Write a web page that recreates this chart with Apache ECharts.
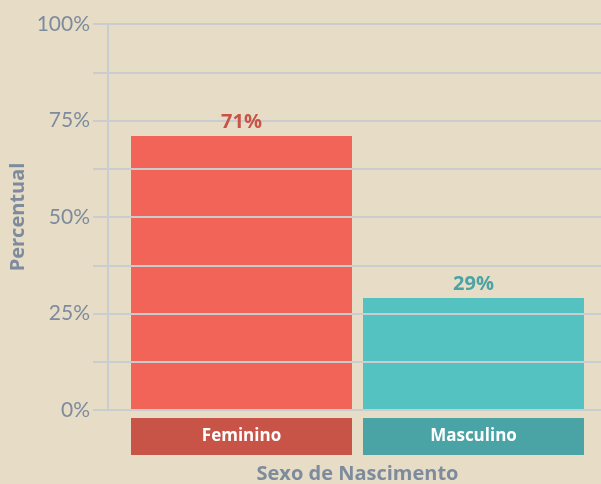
<!DOCTYPE html>
<html>
<head>
<meta charset="utf-8">
<script src="https://cdn.jsdelivr.net/npm/echarts@6/dist/echarts.min.js"></script>
<style>
    html, body { margin: 0; padding: 0; background: #E7DDC6; }
    #chart { width: 601px; height: 484px; }
</style>
</head>
<body>
<div id="chart"></div>
<script>
var categories = ['Feminino', 'Masculino'];
var values = [71, 29];
var barColors = ['#F26457', '#54C2C1'];
var labelColors = ['#C75447', '#4AA3A5'];
var yTicks = [0, 25, 50, 75, 100];

var gridColor = '#C9CDCF';
var textGray = '#7D8B9D';
var font = 'Lato, "Open Sans", sans-serif';

var chart = echarts.init(document.getElementById('chart'));

var rich = {};
categories.forEach(function (c, i) {
    rich['c' + i] = {
        width: 221,
        height: 37,
        align: 'center',
        backgroundColor: labelColors[i],
        color: '#fff',
        fontWeight: 'bold',
        fontSize: 17,
        fontFamily: '"Open Sans", sans-serif'
    };
});

var option = {
    backgroundColor: '#E7DDC6',
    animation: false,
    grid: [
        { left: 108, right: 0, top: 24, bottom: 74, outerBoundsMode: 'none' },
        { left: 125.5, right: 11.5, top: 24, bottom: 74, outerBoundsMode: 'none' }
    ],
    xAxis: [
        {
            gridIndex: 0, type: 'value', min: 0, max: 1, show: false
        },
        {
            gridIndex: 1,
            type: 'category',
            data: categories,
            axisLine: { show: false },
            axisTick: { show: false },
            axisLabel: {
                margin: 8,
                formatter: function (v) {
                    var i = categories.indexOf(v);
                    return '{c' + i + '|' + v + '}';
                },
                rich: rich
            },
            name: 'Sexo de Nascimento',
            nameLocation: 'middle',
            nameGap: 54,
            nameTextStyle: { color: textGray, fontSize: 20, fontWeight: 'bold', fontFamily: '"Open Sans", sans-serif' }
        }
    ],
    yAxis: [
        {
            gridIndex: 0,
            type: 'value',
            min: 0,
            max: 100,
            interval: 12.5,
            z: 3,
            axisLine: { show: true, lineStyle: { color: gridColor, width: 2 } },
            axisTick: { show: true, length: 15, lineStyle: { color: gridColor, width: 2 } },
            splitLine: { show: true, lineStyle: { color: gridColor, width: 2 } },
            axisLabel: {
                margin: 18,
                color: textGray,
                fontSize: 21,
                fontFamily: font,
                formatter: function (v) {
                    return yTicks.indexOf(v) >= 0 ? v + '%' : '';
                }
            },
            name: 'Percentual',
            nameLocation: 'middle',
            nameGap: 80,
            nameMoveOverlap: false,
            nameRotate: 90,
            nameTextStyle: { color: textGray, fontSize: 20, fontWeight: 'bold', fontFamily: '"Open Sans", sans-serif' }
        },
        {
            gridIndex: 1, type: 'value', min: 0, max: 100, show: false
        }
    ],
    series: [
        {
            type: 'bar',
            xAxisIndex: 1,
            yAxisIndex: 1,
            barWidth: 221,
            z: 2,
            data: values.map(function (v, i) {
                return { value: v, itemStyle: { color: barColors[i] } };
            })
        },
        {
            // transparent copy so the value labels sit above the grid lines
            type: 'bar',
            xAxisIndex: 1,
            yAxisIndex: 1,
            barWidth: 221,
            barGap: '-100%',
            z: 10,
            itemStyle: { color: 'rgba(0,0,0,0)' },
            data: values.map(function (v, i) {
                return { value: v, label: { color: labelColors[i] } };
            }),
            label: {
                show: true,
                position: 'top',
                distance: 4,
                formatter: '{c}%',
                fontSize: 20,
                fontWeight: 'bold',
                fontFamily: '"Open Sans", sans-serif'
            }
        }
    ]
};

chart.setOption(option);
</script>
</body>
</html>
